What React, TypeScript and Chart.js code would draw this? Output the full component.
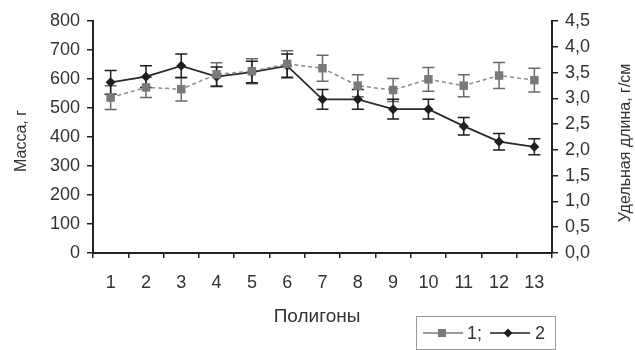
import { useEffect, useRef } from "react";
import { Chart, registerables } from "chart.js";

Chart.register(...registerables);

const categories = ["1", "2", "3", "4", "5", "6", "7", "8", "9", "10", "11", "12", "13"];
const massValues = [536, 571, 565, 616, 627, 652, 637, 577, 562, 599, 577, 612, 596];
const massErrors = [41, 35, 41, 40, 43, 45, 45, 38, 40, 41, 38, 45, 41];
const lengthValues = [3.31, 3.42, 3.63, 3.42, 3.51, 3.63, 2.98, 2.98, 2.79, 2.79, 2.46, 2.16, 2.06];
const lengthErrors = [0.23, 0.21, 0.23, 0.19, 0.21, 0.23, 0.19, 0.19, 0.19, 0.19, 0.17, 0.16, 0.155];
const massAxisMax = 800;
const massAxisStep = 100;
const lengthAxisMax = 4.5;
const lengthAxisStep = 0.5;
const seriesLabels = ["1;", "2"];
const xTitle = "Полигоны";
const leftTitle = "Масса, г";
const rightTitle = "Удельная длина, г/см";

const FONT = "'Liberation Sans', Arial, sans-serif";
const TEXT = "#333333";
const AXIS = "#222222";
const GRAY = "#7a7a7a";
const DARK = "#1e1e1e";

const errorBarPlugin = {
  id: "errorBars",
  beforeDatasetsDraw(chart: any) {
    const ctx = chart.ctx;
    chart.data.datasets.forEach((ds: any, i: number) => {
      const meta = chart.getDatasetMeta(i);
      const yScale = chart.scales[ds.yAxisID];
      ctx.save();
      ctx.strokeStyle = ds.errorColor;
      ctx.lineWidth = 1.5;
      meta.data.forEach((pt: any, j: number) => {
        const v = ds.data[j];
        const e = ds.errors[j];
        const x = pt.x;
        const yt = yScale.getPixelForValue(v + e);
        const yb = yScale.getPixelForValue(v - e);
        ctx.beginPath();
        ctx.moveTo(x, yt);
        ctx.lineTo(x, yb);
        ctx.moveTo(x - 6, yt);
        ctx.lineTo(x + 6, yt);
        ctx.moveTo(x - 6, yb);
        ctx.lineTo(x + 6, yb);
        ctx.stroke();
      });
      ctx.restore();
    });
  },
};

const textPlugin = {
  id: "texts",
  afterDraw(chart: any) {
    const ctx = chart.ctx;
    ctx.save();
    ctx.fillStyle = TEXT;
    ctx.textAlign = "center";
    ctx.textBaseline = "middle";
    ctx.font = `19px ${FONT}`;
    ctx.fillText(xTitle, 317, 317);

    ctx.font = `16px ${FONT}`;
    ctx.save();
    ctx.translate(22, 141);
    ctx.rotate(-Math.PI / 2);
    ctx.fillText(leftTitle, 0, 0);
    ctx.restore();
    ctx.save();
    ctx.translate(626, 143);
    ctx.rotate(-Math.PI / 2);
    ctx.fillText(rightTitle, 0, 0);
    ctx.restore();

    // legend box
    ctx.strokeStyle = "#9a9a9a";
    ctx.lineWidth = 1;
    ctx.strokeRect(416.5, 316.5, 139, 33);
    const cy = 333;
    // sample 1
    ctx.strokeStyle = GRAY;
    ctx.lineWidth = 1.5;
    ctx.beginPath();
    ctx.moveTo(423, cy);
    ctx.lineTo(463, cy);
    ctx.stroke();
    ctx.fillStyle = GRAY;
    ctx.fillRect(438, cy - 4, 8, 8);
    // sample 2
    ctx.strokeStyle = DARK;
    ctx.beginPath();
    ctx.moveTo(490, cy);
    ctx.lineTo(530, cy);
    ctx.stroke();
    ctx.fillStyle = DARK;
    ctx.beginPath();
    ctx.moveTo(508, cy - 4.5);
    ctx.lineTo(512.5, cy);
    ctx.lineTo(508, cy + 4.5);
    ctx.lineTo(503.5, cy);
    ctx.closePath();
    ctx.fill();
    ctx.fillStyle = TEXT;
    ctx.font = `18px ${FONT}`;
    ctx.textAlign = "left";
    ctx.fillText(seriesLabels[0], 467, cy + 1);
    ctx.fillText(seriesLabels[1], 535, cy + 1);
    ctx.restore();
  },
};

export default function App() {
  const ref = useRef<HTMLCanvasElement | null>(null);
  useEffect(() => {
    if (!ref.current) return;
    const chart = new Chart(ref.current, {
      type: "line",
      data: {
        labels: categories,
        datasets: [
          {
            label: seriesLabels[0],
            data: massValues,
            errors: massErrors,
            errorColor: "#6a6a6a",
            yAxisID: "yMass",
            borderColor: "#8c8c8c",
            borderWidth: 1.5,
            borderDash: [4, 3],
            pointStyle: "rect",
            pointRadius: 6,
            pointBackgroundColor: GRAY,
            pointBorderColor: GRAY,
            pointBorderWidth: 0,
            tension: 0,
          } as any,
          {
            label: seriesLabels[1],
            data: lengthValues,
            errors: lengthErrors,
            errorColor: DARK,
            yAxisID: "yLen",
            borderColor: "#2a2a2a",
            borderWidth: 1.8,
            pointStyle: "rectRot",
            pointRadius: 5,
            pointBackgroundColor: DARK,
            pointBorderColor: DARK,
            pointBorderWidth: 0,
            tension: 0,
          } as any,
        ],
      },
      options: {
        animation: false,
        responsive: false,
        devicePixelRatio: 1,
        layout: { padding: { top: 21, left: 0, right: 0, bottom: 0 } },
        plugins: { legend: { display: false }, tooltip: { enabled: false } },
        scales: {
          x: {
            type: "category",
            offset: true,
            afterFit: (s: any) => {
              s.height = 97;
            },
            grid: {
              offset: true,
              drawOnChartArea: false,
              drawTicks: true,
              tickLength: 5,
              color: AXIS,
              lineWidth: 1.5,
            },
            border: { display: true, color: AXIS, width: 2 },
            ticks: {
              color: TEXT,
              font: { family: FONT, size: 18 },
              padding: 14,
              maxRotation: 0,
              autoSkip: false,
            },
          },
          yMass: {
            type: "linear",
            position: "left",
            min: 0,
            max: massAxisMax,
            afterFit: (s: any) => {
              s.width = 93;
            },
            grid: {
              drawOnChartArea: false,
              drawTicks: true,
              tickLength: 6,
              color: AXIS,
              lineWidth: 1.5,
            },
            border: { display: true, color: AXIS, width: 2 },
            ticks: {
              stepSize: massAxisStep,
              color: TEXT,
              font: { family: FONT, size: 18 },
              padding: 7,
            },
          },
          yLen: {
            type: "linear",
            position: "right",
            min: 0,
            max: lengthAxisMax,
            afterFit: (s: any) => {
              s.width = 83;
            },
            grid: {
              drawOnChartArea: false,
              drawTicks: true,
              tickLength: 6,
              color: AXIS,
              lineWidth: 1.5,
            },
            border: { display: true, color: AXIS, width: 2 },
            ticks: {
              stepSize: lengthAxisStep,
              color: TEXT,
              font: { family: FONT, size: 18 },
              padding: 7,
              callback: (v: any) => Number(v).toFixed(1).replace(".", ","),
            },
          },
        },
      } as any,
      plugins: [errorBarPlugin, textPlugin],
    });
    return () => chart.destroy();
  }, []);
  return (
    <div style={{ position: "absolute", left: 0, top: 0, width: 635, height: 350, background: "#fff" }}>
      <canvas ref={ref} width={635} height={350} />
    </div>
  );
}
